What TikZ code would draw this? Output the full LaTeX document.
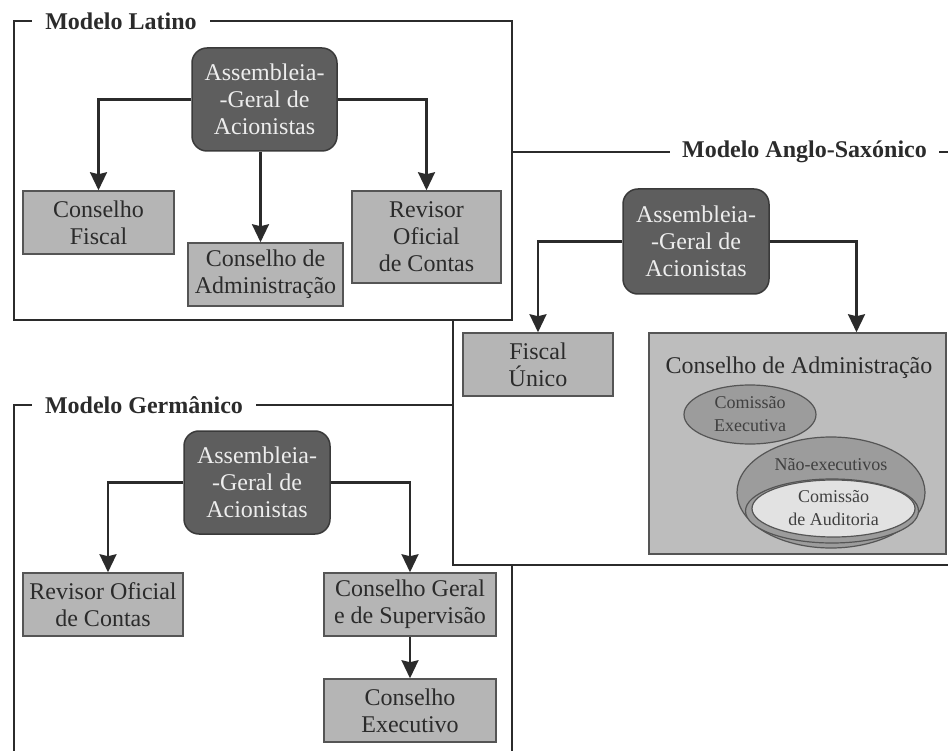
\documentclass[tikz,border=0pt]{standalone}
\usepackage{fontspec}
\setmainfont{Liberation Serif}
\usetikzlibrary{arrows.meta,shapes.geometric}
\definecolor{ln}{HTML}{2B2B2B}
\definecolor{drk}{HTML}{5E5E5E}
\definecolor{drkb}{HTML}{3A3A3A}
\definecolor{boxf}{HTML}{B5B5B5}
\definecolor{boxb}{HTML}{555555}
\definecolor{bigf}{HTML}{BDBDBD}
\definecolor{ellf}{HTML}{9C9C9C}
\definecolor{ellin}{HTML}{E2E2E2}
\begin{document}
\begin{tikzpicture}[x=1pt,y=-1pt,
  frame/.style={draw=ln, line width=2.8pt, fill=white},
  lbl/.style={fill=white, inner xsep=13pt, inner ysep=3pt, font=\bfseries\fontsize{24}{27}\selectfont, text=ln},
  dark/.style={draw=drkb, fill=drk, rounded corners=15pt, line width=1.5pt, text=white!93!black, font=\fontsize{24}{27}\selectfont, align=center, inner sep=0pt},
  gbox/.style={draw=boxb, fill=boxf, line width=1.5pt, text=ln, font=\fontsize{24}{27}\selectfont, align=center, inner sep=0pt},
  ell/.style={ellipse, draw=boxb, fill=ellf, line width=1.2pt, inner sep=0pt, text=ln!90!white, font=\fontsize{18}{23}\selectfont, align=center},
  arr/.style={draw=ln, line width=2.2pt, -{Stealth[width=17pt,length=18pt,inset=2pt]}}
]
\clip (0,0) rectangle (948,751);
\fill[white] (0,0) rectangle (948,751);

% frames (Germanic below, Anglo middle, Latino on top)
\draw[frame] (14,405) rectangle (512,800);
\node[lbl] (lg) at (144,405) {Modelo Germânico};
\draw[frame] (453,152) rectangle (1000,565);
\draw[frame] (14,21) rectangle (512,320);
\node[lbl] (ll) at (121,21) {Modelo Latino};
\node[lbl, inner xsep=12.5pt] (la) at (804.5,152) {Modelo Anglo-Saxónico};

% Latino
\node[dark, minimum width=145pt, minimum height=103pt] (aga1) at (264.5,99.5) {Assembleia-\\-Geral de\\Acionistas};
\node[gbox, minimum width=151pt, minimum height=63pt] (cf) at (98.5,222.5) {Conselho\\Fiscal};
\node[gbox, minimum width=155pt, minimum height=63pt] (cda1) at (265.5,274.5) {Conselho de\\Administração};
\node[gbox, minimum width=149pt, minimum height=92pt] (roc1) at (426.5,237) {Revisor\\Oficial\\de Contas};
\draw[arr] (aga1.west) -| (cf.north);
\draw[arr] (aga1.east) -| (roc1.north);
\draw[arr] ([xshift=-4pt]aga1.south) -- ([xshift=-4pt]aga1.south |- cda1.north);

% Anglo-Saxonico
\node[dark, minimum width=146pt, minimum height=105pt] (aga2) at (696,241.5) {Assembleia-\\-Geral de\\Acionistas};
\node[gbox, minimum width=150pt, minimum height=63pt] (fu) at (538,364.5) {Fiscal\\Único};
\node[gbox, fill=bigf, minimum width=297pt, minimum height=221pt] (cda2) at (797.5,443.5) {};
\node[font=\fontsize{24}{27}\selectfont, text=ln, inner sep=0pt] (cdat) at (799,368) {Conselho de Administração};
\node[ell, minimum width=132pt, minimum height=59pt] (ce) at (750,414.5) {Comissão\\Executiva};
\node[ell, minimum width=188pt, minimum height=111pt] (ne) at (831,492.5) {};
\node[ell, minimum width=173pt, minimum height=64pt] (ring) at (832,511) {};
\node[ell, fill=ellin, minimum width=163pt, minimum height=57pt] (ca) at (833.5,508.5) {Comissão\\de Auditoria};
\node[text=ln!90!white, font=\fontsize{18}{23}\selectfont, inner sep=0pt] (net) at (831,465) {Não-executivos};
\draw[arr] (aga2.west) -| (fu.north);
\draw[arr] (aga2.east) -| ([xshift=59pt]cda2.north);

% Germanico
\node[dark, minimum width=146pt, minimum height=103pt] (aga3) at (257,482.5) {Assembleia-\\-Geral de\\Acionistas};
\node[gbox, minimum width=160pt, minimum height=63pt] (roc3) at (103,604.5) {Revisor Oficial\\de Contas};
\node[gbox, minimum width=172pt, minimum height=63pt] (cgs) at (410,604.5) {Conselho Geral\\e de Supervisão};
\node[gbox, minimum width=172pt, minimum height=63pt] (ce3) at (410,710.5) {Conselho\\Executivo};
\draw[arr] (aga3.west) -| ([xshift=5pt]roc3.north);
\draw[arr] (aga3.east) -| (cgs.north);
\draw[arr] (cgs.south) -- (ce3.north);
\end{tikzpicture}
\end{document}
